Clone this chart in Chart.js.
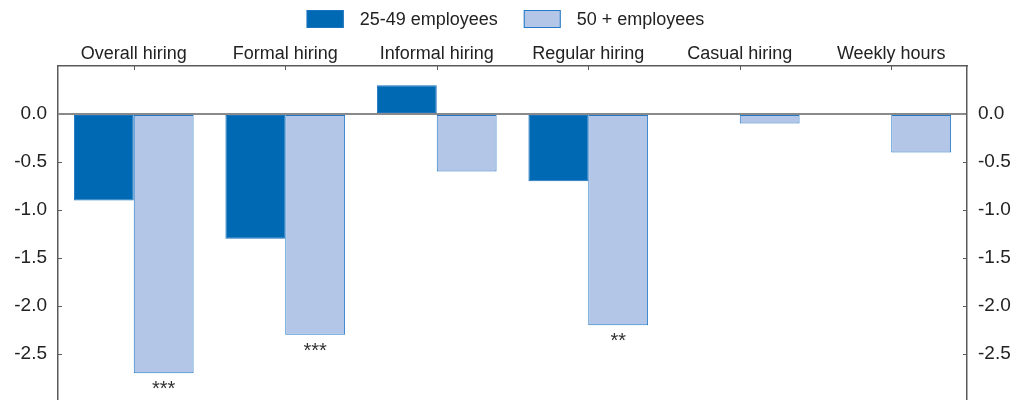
<!DOCTYPE html>
<html>
<head>
<meta charset="utf-8">
<script src="https://cdn.jsdelivr.net/npm/chart.js@4.4.1/dist/chart.umd.min.js"></script>
<style>
    html, body { margin: 0; padding: 0; background: #fff; overflow: hidden; }
    #wrap { width: 1019px; height: 402px; position: relative; }
</style>
</head>
<body>
<div id="wrap"><canvas id="hiringChart"></canvas></div>
<script>
// Категории и значения
const categories = ["Overall hiring", "Formal hiring", "Informal hiring", "Regular hiring", "Casual hiring", "Weekly hours"];
const seriesNames = ["25-49 employees", "50 + employees"];
const smallFirms = [-0.9, -1.3, 0.3, -0.7, null, null];
const largeFirms = [-2.7, -2.3, -0.6, -2.2, -0.1, -0.4];
const largeStars = ["***", "***", "", "**", "", ""];
const yTicks = [0.5, 0.0, -0.5, -1.0, -1.5, -2.0, -2.5, -3.0];

const FONT = "'Liberation Sans', Arial, Helvetica, sans-serif";
const TEXT = "#222";
const AXIS = "#5a5a5a";

// Легенда рисуется вручную: квадрат, отступ, подпись
const boxLegend = {
    id: 'boxLegend',
    afterDraw(chart) {
        const ctx = chart.ctx;
        const sets = chart.data.datasets;
        ctx.save();
        ctx.font = "18px " + FONT;
        const boxW = 37, boxH = 18, gapText = 16, gapItem = 26;
        const widths = sets.map(d => boxW + gapText + ctx.measureText(d.label).width);
        const total = widths.reduce((a, b) => a + b, 0) + gapItem * (sets.length - 1);
        let x = chart.width / 2 - total / 2 - 4;
        const top = 10;
        sets.forEach((d, i) => {
            ctx.fillStyle = d.backgroundColor;
            ctx.fillRect(x, top, boxW, boxH);
            ctx.strokeStyle = d.borderColor;
            ctx.lineWidth = 1;
            ctx.strokeRect(x + 0.5, top + 0.5, boxW - 1, boxH - 1);
            ctx.fillStyle = TEXT;
            ctx.textBaseline = "middle";
            ctx.textAlign = "left";
            ctx.fillText(d.label, x + boxW + gapText, top + boxH / 2 + 1);
            x += widths[i] + gapItem;
        });
        ctx.restore();
    }
};

// Короткие засечки внутрь области графика
const innerTicks = {
    id: 'innerTicks',
    afterDraw(chart) {
        const ctx = chart.ctx;
        const area = chart.chartArea;
        const y = chart.scales.y;
        const x = chart.scales.x;
        ctx.save();
        ctx.strokeStyle = AXIS;
        ctx.lineWidth = 1;
        yTicks.forEach(v => {
            if (v >= 0.5 || v === 0) return;
            const py = Math.round(y.getPixelForValue(v)) + 0.5;
            ctx.beginPath();
            ctx.moveTo(area.left, py);
            ctx.lineTo(area.left + 4, py);
            ctx.moveTo(area.right, py);
            ctx.lineTo(area.right - 4, py);
            ctx.stroke();
        });
        categories.forEach((c, i) => {
            const px = Math.round(x.getPixelForTick(i)) + 0.5;
            ctx.beginPath();
            ctx.moveTo(px, area.top);
            ctx.lineTo(px, area.top + 4);
            ctx.stroke();
        });
        ctx.restore();
    }
};

// Звёздочки значимости под столбцами
const starLabels = {
    id: 'starLabels',
    afterDatasetsDraw(chart) {
        const ctx = chart.ctx;
        const meta = chart.getDatasetMeta(1);
        ctx.save();
        ctx.fillStyle = "#333";
        ctx.font = "20px " + FONT;
        ctx.textAlign = "center";
        ctx.textBaseline = "alphabetic";
        meta.data.forEach((bar, i) => {
            if (!largeStars[i]) return;
            ctx.fillText(largeStars[i], bar.x, bar.y + 22);
        });
        ctx.restore();
    }
};

// Без лишних полей сверху и снизу у вертикальных осей
const noPad = s => { s.paddingTop = 0; s.paddingBottom = 0; };

const ctx = document.getElementById("hiringChart").getContext("2d");
new Chart(ctx, {
    type: "bar",
    data: {
        labels: categories,
        datasets: [{
            label: seriesNames[0],
            data: smallFirms,
            backgroundColor: "#0069B4",
            borderColor: "#1A73BE",
            borderWidth: 1,
            borderSkipped: false,
            yAxisID: "y"
        }, {
            label: seriesNames[1],
            data: largeFirms,
            backgroundColor: "#B3C6E7",
            borderColor: "#2479C6",
            borderWidth: 1,
            borderSkipped: false,
            yAxisID: "y"
        }]
    },
    options: {
        responsive: true,
        maintainAspectRatio: false,
        animation: false,
        layout: { padding: { top: 40, bottom: 0, left: 0, right: 0 } },
        datasets: {
            bar: { categoryPercentage: 0.79, barPercentage: 1.0 }
        },
        scales: {
            x: {
                position: "top",
                afterFit: s => { s.height = 26; },
                grid: { display: false, drawTicks: false },
                border: { display: true, color: AXIS, width: 1.5 },
                ticks: { color: TEXT, font: { family: FONT, size: 18 }, padding: 1, maxRotation: 0 }
            },
            y: {
                position: "left",
                min: -3.0,
                max: 0.5,
                afterFit: s => { s.width = 58; noPad(s); },
                afterBuildTicks: s => { s.ticks = yTicks.map(v => ({ value: v })); },
                grid: {
                    drawTicks: false,
                    lineWidth: 2,
                    color: c => (c.tick && c.tick.value === 0 ? "#8a8a8a" : "rgba(0,0,0,0)")
                },
                border: { display: true, color: AXIS, width: 1.5 },
                ticks: {
                    color: TEXT,
                    font: { family: FONT, size: 19 },
                    padding: 11,
                    callback: v => (v >= 0.5 || v <= -3.0 ? "" : v.toFixed(1))
                }
            },
            y2: {
                position: "right",
                min: -3.0,
                max: 0.5,
                afterFit: s => { s.width = 52; noPad(s); },
                afterBuildTicks: s => { s.ticks = yTicks.map(v => ({ value: v })); },
                grid: { display: false, drawTicks: false },
                border: { display: true, color: AXIS, width: 1.5 },
                ticks: {
                    color: TEXT,
                    font: { family: FONT, size: 19 },
                    padding: 11,
                    callback: v => (v >= 0.5 || v <= -3.0 ? "" : v.toFixed(1))
                }
            }
        },
        plugins: {
            legend: { display: false },
            tooltip: { enabled: false }
        }
    },
    plugins: [boxLegend, innerTicks, starLabels]
});
</script>
</body>
</html>
